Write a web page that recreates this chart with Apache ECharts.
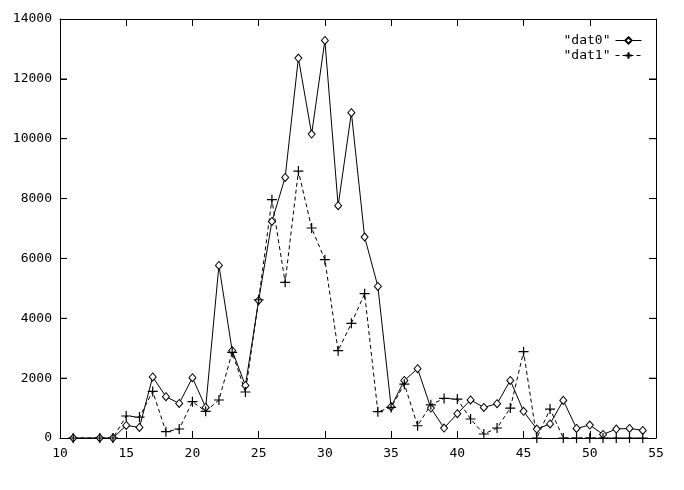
<!DOCTYPE html>
<html><head><meta charset="utf-8">
<script src="https://cdn.jsdelivr.net/npm/echarts@6/dist/echarts.min.js"></script>
<style>html,body{margin:0;padding:0;background:#fff}#c{width:684px;height:490px}</style>
</head><body><div id="c"></div>
<script>
const xs0 = [11,13,14,15,16,17,18,19,20,21,22,23,24,25,26,27,28,29,30,31,32,33,34,35,36,37,38,39,40,41,42,43,44,45,46,47,48,49,50,51,52,53,54];
const dat0 = [0,0,0,420,355,2040,1380,1155,2015,1020,5767,2917,1757,4597,7237,8707,12696,10157,13284,7762,10868,6716,5065,1045,1925,2315,1000,334,812,1270,1022,1146,1925,890,300,468,1257,321,434,120,300,321,254];
const xs1 = [11,13,14,15,16,17,18,19,20,21,22,23,24,25,26,27,28,29,30,31,32,33,34,35,36,37,38,39,40,41,42,43,44,45,46,47,48,49,50,51,52,53,54];
const dat1 = [0,0,0,735,700,1557,210,300,1213,890,1270,2860,1537,4620,7962,5200,8920,7016,5957,2917,3830,4821,880,1020,1800,410,1110,1323,1300,635,134,334,1000,2883,0,968,0,0,0,0,0,0,0];
const seriesNames = ['"dat0"', '"dat1"'];
const yTicks = [2000,4000,6000,8000,10000,12000];
const xMin = 10, xMax = 55;

const FONT = 'DejaVu Sans Mono';
const plus = 'path://M0,-5L0,5M-5,0L5,0';
const chart = echarts.init(document.getElementById('c'), null, {renderer:'canvas'});
function axisCommon(len){ return {
  axisLine:{show:true, onZero:false, lineStyle:{color:'#000', width:1}},
  axisTick:{show:true, inside:true, length:len, lineStyle:{color:'#000', width:1}},
  splitLine:{show:false}
};}
const hiddenLabel = {show:true, color:'rgba(0,0,0,0)', fontSize:6, formatter:()=>''};
const tickSeries = (xv, off) => ({
  type:'scatter', silent:true, clip:false, z:5,
  data:yTicks.map(v=>[xv, v]),
  symbol:'rect', symbolSize:[7,1], symbolOffset:[off,0],
  itemStyle:{color:'#000'}, emphasis:{disabled:true}, tooltip:{show:false}
});
chart.setOption({
  animation:false,
  backgroundColor:'#fff',
  grid:{left:60, right:28, top:19, bottom:52, containLabel:false, outerBoundsMode:'none'},
  legend:{
    top:29, right:37, orient:'vertical', align:'right', itemGap:2,
    itemWidth:26, itemHeight:8,
    lineStyle:{width:1},
    textStyle:{fontFamily:FONT, fontSize:13, color:'#000'},
    data:seriesNames
  },
  xAxis:[
    Object.assign({type:'value', position:'bottom', min:xMin, max:xMax, interval:5,
      axisLabel:{fontFamily:FONT, fontSize:13, color:'#000', margin:9, formatter:v=>String(v)}}, axisCommon(7)),
    Object.assign({type:'value', position:'top', min:xMin, max:xMax, interval:5,
      axisLabel:hiddenLabel}, axisCommon(7))
  ],
  yAxis:[
    Object.assign({type:'value', position:'left', min:0, max:14000, interval:2000,
      axisLabel:{fontFamily:FONT, fontSize:13, color:'#000', margin:8, formatter:v=>String(v)}}, axisCommon(7)),
    Object.assign({type:'value', position:'right', min:0, max:14000, interval:2000,
      axisLabel:hiddenLabel}, axisCommon(7))
  ],
  series:[
    {name:seriesNames[0], type:'line', data:xs0.map((x,i)=>[x,dat0[i]]),
      symbol:'diamond', symbolSize:[7,8], showAllSymbol:true,
      lineStyle:{color:'#000', width:1},
      itemStyle:{color:'#fff', borderColor:'#000', borderWidth:1}},
    {name:seriesNames[1], type:'line', data:xs1.map((x,i)=>[x,dat1[i]]),
      symbol:plus, symbolSize:10, showAllSymbol:true,
      lineStyle:{color:'#000', width:1, type:[4,3]},
      itemStyle:{color:'#000', borderColor:'#000', borderWidth:1.2}},
    tickSeries(xMin, 3.5),
    tickSeries(xMax, -3.5)
  ]
});
</script></body></html>
